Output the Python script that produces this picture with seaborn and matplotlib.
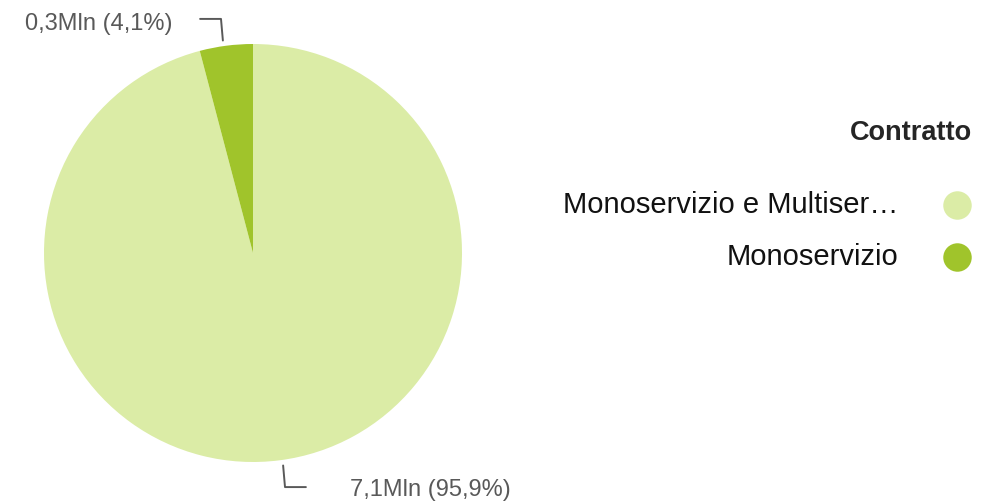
import numpy as np
import matplotlib
matplotlib.use("Agg")
import matplotlib.pyplot as plt
from matplotlib.lines import Line2D
import seaborn as sns

# ---- data ----
categories = ["Monoservizio e Multiser…", "Monoservizio"]
values = [7.1, 0.3]                 # Mln
percent_labels = ["95,9%", "4,1%"]
value_labels = ["7,1Mln", "0,3Mln"]
legend_title = "Contratto"
colors = ["#DBECA6", "#A0C42B"]

sns.set_theme(style="white")
plt.rcParams["font.family"] = ["Liberation Sans", "DejaVu Sans"]

W, H = 1002, 501
fig = plt.figure(figsize=(W / 100, H / 100), dpi=100)
fig.patch.set_facecolor("white")

# pie axes: centre (253,253) px, radius 209 px
cx, cy, r = 253, 253, 209
ax = fig.add_axes([(cx - r) / W, (H - cy - r) / H, 2 * r / W, 2 * r / H])
ax.set_xlim(-1, 1)
ax.set_ylim(-1, 1)
ax.axis("off")

# percentages as shares (from labels) drive the wedge angles
shares = [float(p.strip("%").replace(",", ".")) for p in percent_labels]
wedges, _ = ax.pie(shares, colors=colors, startangle=90, counterclock=False,
                   radius=1, wedgeprops=dict(linewidth=0))
ax.set_xlim(-1, 1)
ax.set_ylim(-1, 1)

line_color = "#595959"
text_gaps = [0.21, 0.13]
for w, vl, pl, gap in zip(wedges, value_labels, percent_labels, text_gaps):
    ang = np.deg2rad((w.theta1 + w.theta2) / 2)
    x0, y0 = np.cos(ang), np.sin(ang)
    sx = 1 if x0 >= 0 else -1
    sy = 1 if y0 >= 0 else -1
    start = (1.02 * x0 * 1.1, sy * (abs(y0) + 0.025))
    elbow = (start[0] + sx * 0.009, sy * 1.12)
    end = (elbow[0] + sx * 0.1, sy * 1.12)
    ax.add_line(Line2D([start[0], elbow[0], end[0]], [start[1], elbow[1], end[1]],
                       color=line_color, lw=1.4, clip_on=False))
    ax.text(end[0] + sx * gap, (1.095 if sy > 0 else -1.133),
            f"{vl} ({pl})", ha="left" if sx > 0 else "right", va="center",
            fontsize=17, color=line_color, clip_on=False)

# ---- legend (drawn manually, right aligned) ----
fig.text(972 / W, 1 - 133 / H, legend_title, ha="right", va="center",
         fontsize=19.5, fontweight="bold", color="#252525")
ys = [205, 257]
for cat, col, y in zip(categories, colors, ys):
    fig.text(898 / W, 1 - y / H, cat, ha="right", va="center",
             fontsize=21, color="#111111")
    fig.add_artist(Line2D([957 / W], [1 - y / H], marker="o", markersize=20.5,
                          markerfacecolor=col, markeredgewidth=0, linestyle="none",
                          transform=fig.transFigure))

fig.savefig("out.png", dpi=100, facecolor="white")
